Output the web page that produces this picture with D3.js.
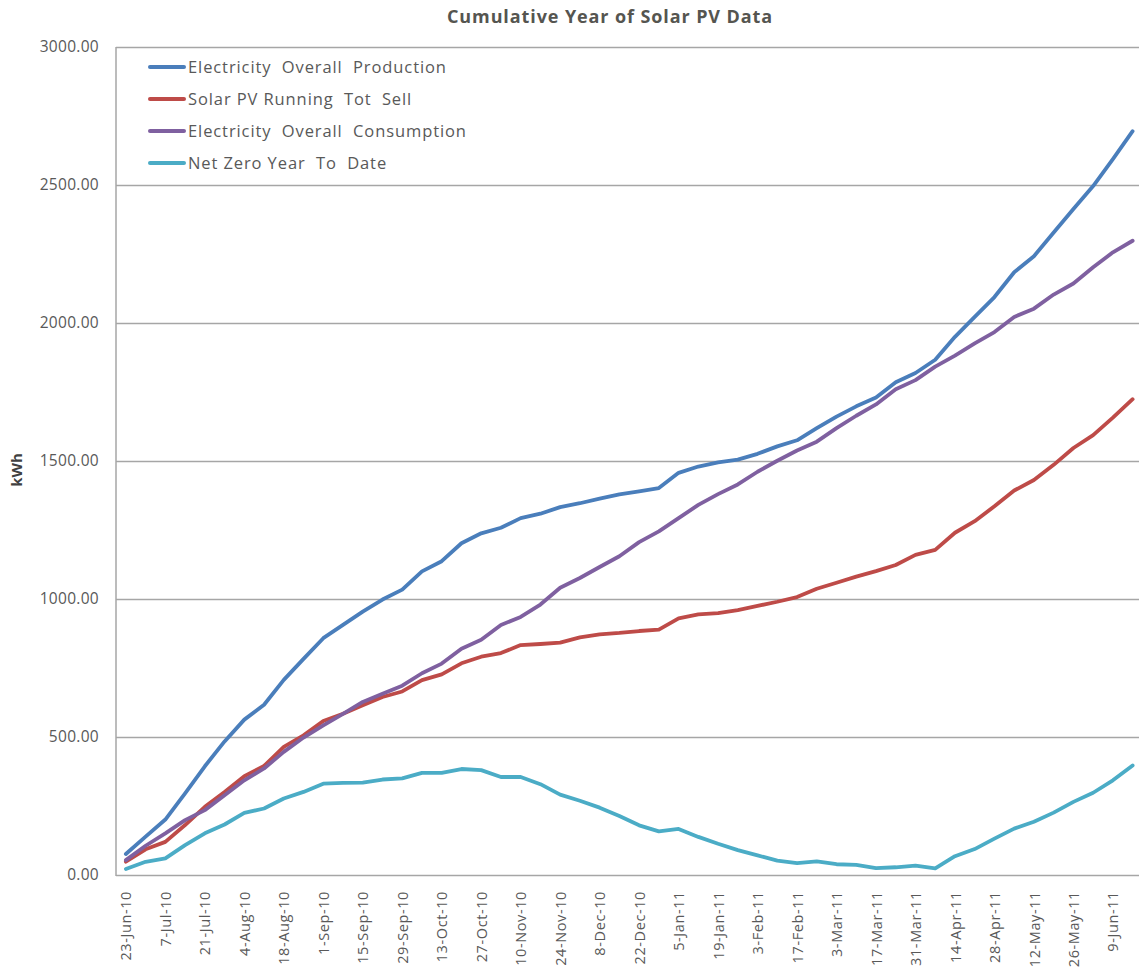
<!DOCTYPE html>
<html>
<head>
<meta charset="utf-8">
<script src="https://cdn.jsdelivr.net/npm/d3@7"></script>
<style>
  html, body { margin: 0; padding: 0; background: #ffffff; }
  svg { display: block; }
</style>
</head>
<body>
<svg id="chart" width="1139" height="971"></svg>
<script>
const categories = [
  "23-Jun-10","30-Jun-10","7-Jul-10","14-Jul-10","21-Jul-10","28-Jul-10","4-Aug-10","11-Aug-10",
  "18-Aug-10","25-Aug-10","1-Sep-10","8-Sep-10","15-Sep-10","22-Sep-10","29-Sep-10","6-Oct-10",
  "13-Oct-10","20-Oct-10","27-Oct-10","3-Nov-10","10-Nov-10","17-Nov-10","24-Nov-10","1-Dec-10",
  "8-Dec-10","15-Dec-10","22-Dec-10","29-Dec-10","5-Jan-11","12-Jan-11","19-Jan-11","26-Jan-11",
  "3-Feb-11","10-Feb-11","17-Feb-11","24-Feb-11","3-Mar-11","10-Mar-11","17-Mar-11","24-Mar-11",
  "31-Mar-11","7-Apr-11","14-Apr-11","21-Apr-11","28-Apr-11","5-May-11","12-May-11","19-May-11",
  "26-May-11","2-Jun-11","9-Jun-11","16-Jun-11"
];

const production = [
  76,139,201,296,394,484,563,617,707,783,858,906,954,998,1034,1100,
  1137,1202,1238,1258,1293,1309,1333,1347,1364,1379,1390,1402,1457,1480,1495,1505,
  1526,1553,1575,1619,1661,1698,1730,1785,1819,1867,1950,2022,2094,2184,2242,2328,
  2413,2496,2594,2695
];

const runningTotSell = [
  48,93,120,181,247,301,358,395,464,506,558,584,615,645,665,706,
  727,767,791,804,833,837,842,861,872,877,884,889,930,944,949,960,
  975,990,1007,1037,1059,1081,1101,1123,1160,1178,1240,1282,1336,1393,1431,1486,
  1547,1594,1657,1724
];

const consumption = [
  54,106,151,199,235,289,343,386,446,498,542,584,627,657,686,731,
  766,820,852,906,935,980,1041,1076,1116,1155,1206,1245,1293,1341,1380,1415,
  1461,1501,1538,1570,1619,1664,1705,1760,1793,1842,1882,1926,1967,2022,2052,2103,
  2143,2202,2256,2298
];

const netZero = [
  22,48,60,108,151,183,225,241,277,301,331,334,335,346,350,370,
  370,384,380,355,355,329,291,269,244,214,180,158,167,138,113,90,
  71,52,43,49,39,37,25,28,34,24,68,94,132,168,193,226,
  265,298,343,397
];

const seriesNames = [
  "Electricity  Overall  Production",
  "Solar PV Running  Tot  Sell",
  "Electricity  Overall  Consumption",
  "Net Zero Year  To  Date"
];
const seriesColors = ["#4A7EBB", "#BE4B48", "#7F60A0", "#4BACC6"];
const yTicks = [0, 500, 1000, 1500, 2000, 2500, 3000];
const xTickLabels = categories.filter((d, i) => i % 2 === 0);
const titleText = "Cumulative Year of Solar PV Data";
const yAxisTitle = "kWh";

const seriesData = [production, runningTotSell, consumption, netZero];

(function draw() {
  const svg = d3.select("#chart");
  const plotLeft = 116, plotRight = 1142.5, plotTop = 47, plotBottom = 875;
  const textColor = "#595959";
  const gridColor = "#A6A6A6";
  const fontFam = "'Open Sans', 'DejaVu Sans', sans-serif";

  const x = d3.scalePoint().domain(categories).range([plotLeft, plotRight]).padding(0.5);
  const y = d3.scaleLinear().domain([0, 3000]).range([plotBottom, plotTop]);

  // Title
  svg.append("text")
    .attr("x", 610).attr("y", 23)
    .attr("text-anchor", "middle")
    .attr("font-family", fontFam)
    .attr("font-weight", 700)
    .attr("font-size", 18)
    .attr("letter-spacing", 0.9)
    .attr("fill", "#555550")
    .text(titleText);

  // Gridlines
  const grid = svg.append("g")
    .attr("transform", `translate(${plotLeft},0)`)
    .call(d3.axisLeft(y).tickValues(yTicks).tickSize(-(1139 - plotLeft)).tickFormat(""));
  grid.select(".domain").remove();
  grid.selectAll("line").attr("stroke", gridColor).attr("stroke-width", 1.5);

  // Left axis line
  svg.append("line")
    .attr("x1", plotLeft).attr("x2", plotLeft).attr("y1", plotTop).attr("y2", plotBottom + 1)
    .attr("stroke", gridColor).attr("stroke-width", 1.5);

  // Y axis labels
  const yAxis = svg.append("g")
    .attr("transform", `translate(${plotLeft},0)`)
    .call(d3.axisLeft(y).tickValues(yTicks).tickSize(0).tickPadding(17).tickFormat(d3.format(".2f")));
  yAxis.select(".domain").remove();
  yAxis.selectAll("text")
    .attr("font-family", fontFam)
    .attr("font-size", 15.5)
    .attr("letter-spacing", 0.3)
    .attr("fill", textColor);

  // X axis labels
  const xAxis = svg.append("g")
    .attr("transform", `translate(0,${plotBottom})`)
    .call(d3.axisBottom(x).tickValues(xTickLabels).tickSize(0));
  xAxis.select(".domain").remove();
  xAxis.selectAll("text")
    .attr("font-family", fontFam)
    .attr("font-size", 14.5)
    .attr("letter-spacing", 0.6)
    .attr("fill", textColor)
    .attr("text-anchor", "end")
    .attr("transform", "rotate(-90)")
    .attr("x", -16)
    .attr("y", 0)
    .attr("dy", "0.35em");

  // Y axis title
  svg.append("text")
    .attr("transform", "translate(22,470) rotate(-90)")
    .attr("text-anchor", "middle")
    .attr("font-family", fontFam)
    .attr("font-weight", 700)
    .attr("font-size", 15)
    .attr("fill", "#404040")
    .text(yAxisTitle);

  // Lines
  const line = d3.line()
    .x((d, i) => x(categories[i]))
    .y(d => y(d));

  svg.append("g").selectAll("path")
    .data(seriesData)
    .join("path")
    .attr("d", d => line(d))
    .attr("fill", "none")
    .attr("stroke", (d, i) => seriesColors[i])
    .attr("stroke-width", 3.8)
    .attr("stroke-linejoin", "round")
    .attr("stroke-linecap", "round");

  // Legend
  const legend = svg.append("g");
  const rows = legend.selectAll("g")
    .data(seriesNames)
    .join("g")
    .attr("transform", (d, i) => `translate(0,${67 + i * 32})`);
  rows.append("line")
    .attr("x1", 150).attr("x2", 184).attr("y1", 0).attr("y2", 0)
    .attr("stroke", (d, i) => seriesColors[i])
    .attr("stroke-width", 4)
    .attr("stroke-linecap", "round");
  rows.append("text")
    .attr("x", 188).attr("y", 0).attr("dy", "0.36em")
    .attr("font-family", fontFam)
    .attr("font-size", 16.5)
    .attr("letter-spacing", 0.9)
    .attr("fill", textColor)
    .style("white-space", "pre")
    .text(d => d);
})();
</script>
</body>
</html>
